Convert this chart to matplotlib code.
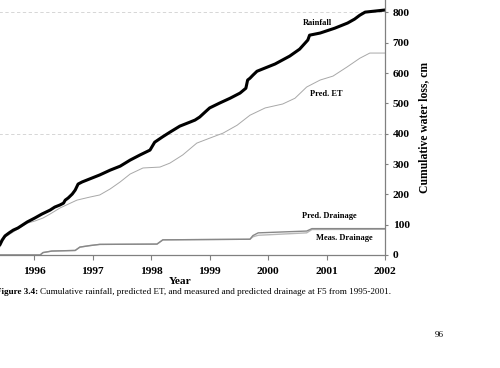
import matplotlib
matplotlib.use('Agg')
import matplotlib.pyplot as plt

plt.rcParams['font.family'] = ['Liberation Serif', 'DejaVu Serif']

# Cumulative rainfall (cm)
rain_year = [1995.00, 1995.41, 1995.45, 1995.50, 1995.57, 1995.64, 1995.72, 1995.80,
             1995.88, 1996.01, 1996.13, 1996.27, 1996.35, 1996.44, 1996.50, 1996.53,
             1996.58, 1996.65, 1996.70, 1996.75, 1996.82, 1997.12, 1997.30, 1997.47,
             1997.64, 1997.81, 1997.98, 1998.06, 1998.19, 1998.32, 1998.49, 1998.66,
             1998.75, 1998.83, 1998.92, 1999.00, 1999.17, 1999.35, 1999.52, 1999.62,
             1999.65, 1999.69, 1999.74, 1999.81, 2000.12, 2000.37, 2000.54, 2000.68,
             2000.71, 2000.89, 2001.14, 2001.36, 2001.48, 2001.57, 2001.66, 2002.00]
rain = [0, 33, 49, 63, 73, 82, 89, 99,
        109, 122, 135, 148, 158, 165, 171, 181,
        188, 201, 214, 234, 241, 264, 280, 293,
        313, 330, 346, 372, 389, 405, 425, 438,
        445, 455, 471, 485, 501, 517, 534, 550,
        577, 583, 593, 606, 630, 656, 679, 709,
        725, 732, 748, 765, 778, 791, 801, 808]

# Predicted ET
et_year = [1995.00, 1995.41, 1995.50, 1995.64, 1995.88, 1996.01, 1996.15, 1996.27,
           1996.44, 1996.73, 1996.95, 1997.12, 1997.30, 1997.47, 1997.64, 1997.86,
           1998.15, 1998.32, 1998.54, 1998.78, 1999.01, 1999.23, 1999.47, 1999.69,
           1999.95, 2000.25, 2000.46, 2000.66, 2000.89, 2001.11, 2001.35, 2001.57,
           2001.74, 2002.00]
et = [0, 26, 59, 76, 105, 112, 122, 135,
      155, 181, 191, 198, 218, 241, 267, 287,
      290, 303, 330, 369, 386, 402, 428, 461,
      485, 498, 517, 554, 577, 590, 620, 649,
      666, 666]

# Drainage, predicted and measured
dr_year = [1995.00, 1996.10, 1996.15, 1996.30, 1996.70, 1996.78, 1996.95, 1997.12,
           1998.10, 1998.20, 1999.69, 1999.74, 1999.83, 2000.66, 2000.75, 2002.00]
pred_dr = [0, 0, 8, 13, 15, 26, 31, 35, 36, 50, 52, 64, 73, 79, 87, 87]
meas_dr = [0, 0, 8, 13, 15, 26, 31, 35, 36, 50, 52, 60, 65, 73, 84, 85]

years = [1996, 1997, 1998, 1999, 2000, 2001, 2002]
yticks = [0, 100, 200, 300, 400, 500, 600, 700, 800]

fig = plt.figure(figsize=(5, 3.68), dpi=100)
ax = fig.add_axes([-24.2 / 500, 113 / 368, 409.2 / 500, 255 / 368])

for g in (400, 800):
    ax.axhline(g, color='#d0d0d0', lw=0.6, ls=(0, (4, 3)), zorder=0)

ax.plot(et_year, et, color='#a8a8a8', lw=0.7)
ax.plot(dr_year, meas_dr, color='#b8b8b8', lw=1.0)
ax.plot(dr_year, pred_dr, color='#888888', lw=1.0)
ax.plot(rain_year, rain, color='black', lw=2.2)

ax.set_xlim(1995, 2002)
ax.set_ylim(0, 841)
ax.set_xticks(years)
ax.set_xticklabels([str(y) for y in years], fontweight='bold', fontsize=8.2)
ax.set_yticks(yticks)
ax.set_yticklabels([str(v) for v in yticks], fontweight='bold', fontsize=8.2)
ax.yaxis.tick_right()
ax.yaxis.set_label_position('right')
ax.tick_params(axis='y', direction='out', length=2.5, width=0.8, color='#808080', pad=3)
ax.tick_params(axis='x', direction='out', length=3.5, width=0.8, color='#808080', pad=5.5)

for s in ('left', 'top'):
    ax.spines[s].set_visible(False)
for s in ('right', 'bottom'):
    ax.spines[s].set_color('#808080')
    ax.spines[s].set_linewidth(0.9)

ax.set_xlabel('Year', fontweight='bold', fontsize=8.2, labelpad=0)
ax.set_ylabel('Cumulative water loss, cm', fontweight='bold', fontsize=8.4, labelpad=6)

ax.text(2000.84, 766, 'Rainfall', fontweight='bold', fontsize=6, ha='center', va='center')
ax.text(2000.99, 531, 'Pred. ET', fontweight='bold', fontsize=6, ha='center', va='center')
ax.text(2001.04, 129, 'Pred. Drainage', fontweight='bold', fontsize=6, ha='center', va='center')
ax.text(2001.30, 56, 'Meas. Drainage', fontweight='bold', fontsize=6, ha='center', va='center')

# caption below the chart
fig.canvas.draw()
cap_y = 1 - 292 / 368
t1 = fig.text(-4 / 500, cap_y, 'Figure 3.4:', fontweight='bold', fontsize=6.6, va='center')
bb = t1.get_window_extent(renderer=fig.canvas.get_renderer())
fig.text(bb.x1 / 500 + 0.004, cap_y,
         'Cumulative rainfall, predicted ET, and measured and predicted drainage at F5 from 1995-2001.',
         fontsize=6.6, va='center')
fig.text(439 / 500, 1 - 335 / 368, '96', fontsize=6.6, ha='center', va='center')

fig.savefig('out.png', dpi=100)
